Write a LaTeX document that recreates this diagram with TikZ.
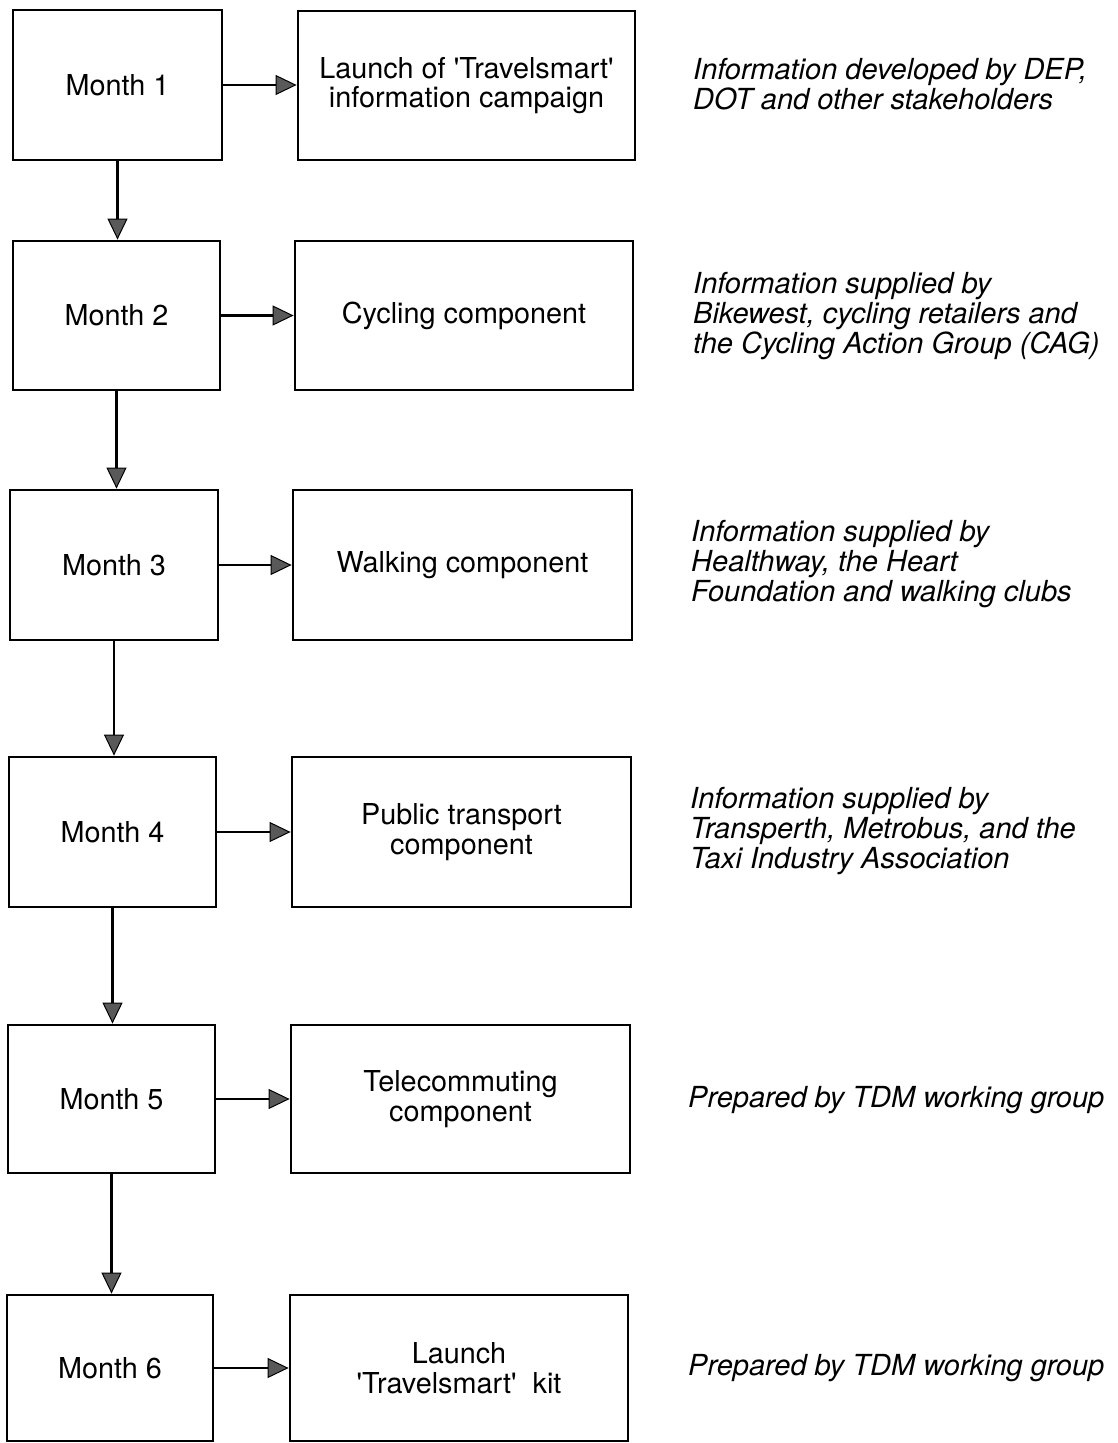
\documentclass[tikz,border=0pt]{standalone}
\usepackage{fontspec}
\setmainfont{TeX Gyre Heros}
\usetikzlibrary{arrows.meta}
\newcommand{\sq}{\textquotesingle}
\begin{document}
\begin{tikzpicture}[x=1pt,y=-1pt,
  every node/.style={font=\fontsize{28.8}{29.7}\selectfont},
  mbox/.style={draw=black,line width=2.8pt,rectangle,inner sep=0pt,minimum height=149pt,align=center},
  lbox/.style={mbox,minimum width=207pt},
  rbox/.style={mbox,minimum width=338pt},
  note/.style={anchor=west,align=left,inner sep=0pt,font=\fontsize{29}{29.7}\selectfont\itshape},
  arr/.style={draw=black,line width=2.2pt,-{Triangle[length=21pt,width=20pt,fill=black!65,line width=1pt]}}]
\useasboundingbox (0,0) rectangle (1118,1443);

% left column
\node[lbox,minimum width=209pt,minimum height=150pt] (m1) at (117.5,85) {Month 1};
\node[lbox] (m2) at (116.5,315.5) {Month 2};
\node[lbox,minimum width=208pt,minimum height=150pt] (m3) at (114,565) {Month 3};
\node[lbox,minimum height=150pt] (m4) at (112.5,832) {Month 4};
\node[lbox,minimum height=148pt] (m5) at (111.5,1099) {Month 5};
\node[lbox,minimum width=206pt,minimum height=146pt] (m6) at (110,1368) {Month 6};

% middle column
\node[rbox,minimum width=337pt] (r1) at (466.5,85.5) {Launch of \sq Travelsmart\sq\\information campaign};
\node[rbox] (r2) at (464,315.5) {Cycling component};
\node[rbox,minimum width=339pt,minimum height=150pt] (r3) at (462.5,565) {Walking component};
\node[rbox,minimum width=339pt,minimum height=150pt] (r4) at (461.5,832) {Public transport\\component};
\node[rbox,minimum width=339pt,minimum height=148pt] (r5) at (460.5,1099) {Telecommuting\\component};
\node[rbox,minimum height=146pt] (r6) at (459,1368) {Launch\\\sq Travelsmart\sq\ \ kit};

% notes
\node[note] (n1) at (693,84) {Information developed by DEP,\\DOT and other stakeholders};
\node[note] (n2) at (693,316) {Information supplied by\\Bikewest, cycling retailers and\\the Cycling Action Group (CAG)};
\node[note] (n3) at (691,564) {Information supplied by\\Healthway, the Heart\\Foundation and walking clubs};
\node[note] (n4) at (690,831) {Information supplied by\\Transperth, Metrobus, and the\\Taxi Industry Association};
\node[note] (n5) at (688,1100) {Prepared by TDM working group};
\node[note] (n6) at (688,1368) {Prepared by TDM working group};

% horizontal arrows
\foreach \i in {1,...,6}{
  \draw[arr] (m\i.east) -- (m\i.east -| r\i.west);
}
% vertical arrows
\draw[arr] (m1.south) -- (m1.south |- m2.north);
\draw[arr] (m2.south) -- (m2.south |- m3.north);
\draw[arr] (m3.south) -- (m3.south |- m4.north);
\draw[arr] (m4.south) -- (m4.south |- m5.north);
\draw[arr] (m5.south) -- (m5.south |- m6.north);
\end{tikzpicture}
\end{document}
